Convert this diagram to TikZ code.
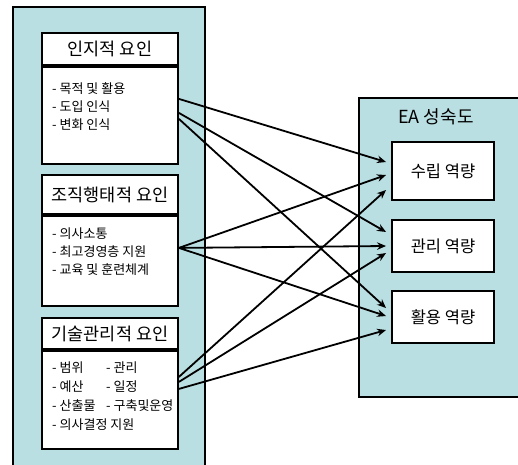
\documentclass[tikz,border=0pt]{standalone}
\usepackage{fontspec}
\setmainfont{Noto Sans CJK KR}
\usetikzlibrary{positioning, calc, arrows.meta}
\definecolor{PanelBlue}{HTML}{BADFE2}
\tikzset{
OuterBox/.style ={draw, fill=PanelBlue, line width=1.9pt, anchor=north west, inner sep=0pt},
TitleBox/.style ={draw, fill=white, line width=1.9pt, anchor=north west, inner sep=0pt,
                  minimum width=136pt, font=\fontsize{17.5}{20}\selectfont},
BodyBox/.style  ={draw, fill=white, line width=1.9pt, inner sep=0pt, minimum width=136pt},
ItemText/.style ={anchor=north west, inner sep=0pt, align=left, font=\fontsize{13}{18}\selectfont},
GoalBox/.style  ={draw, fill=white, line width=1.9pt, inner sep=0pt, minimum width=102pt,
                  font=\fontsize{16.5}{18}\selectfont},
MyArrow/.style  ={line width=1.8pt, -{Stealth[length=9pt, width=7.5pt]}},
}

\begin{document}
\begin{tikzpicture}[x=1pt, y=-1pt]
\useasboundingbox (0,0) rectangle (518,464);
\clip (0,0) rectangle (518,464);

\node[OuterBox, minimum width=192pt, minimum height=470pt] (factors) at (12,6) {};   % 요인
\node[OuterBox, minimum width=170pt, minimum height=299pt] (maturity) at (358,97) {}; % 성숙도
\node[font=\fontsize{18}{20}\selectfont] (mtitle) at (436,117) {EA 성숙도};

\begin{scope}  % 왼쪽 상자
\node[TitleBox, minimum height=32pt] (title1) at (41,32) {인지적 요인};
\node[BodyBox, minimum height=97pt, below=0pt of title1] (body1) {};
\node[ItemText] (list1) at ($(body1.north west)+(11,17)$) {- 목적 및 활용\\- 도입 인식\\- 변화 인식};

\node[TitleBox, minimum height=39pt] (title2) at (41,174) {조직행태적 요인};
\node[BodyBox, minimum height=90pt, below=0pt of title2] (body2) {};
\node[ItemText] (list2) at ($(body2.north west)+(11,13)$) {- 의사소통\\- 최고경영층 지원\\- 교육 및 훈련체계};

\node[TitleBox, minimum height=31pt] (title3) at (41,317) {기술관리적 요인};
\node[BodyBox, minimum height=98pt, below=0pt of title3] (body3) {};
\node[ItemText, font=\fontsize{13}{19}\selectfont] (list3) at ($(body3.north west)+(11,12)$)
  {\makebox[54pt][l]{- 범위}- 관리\\\makebox[54pt][l]{- 예산}- 일정\\
   \makebox[54pt][l]{- 산출물}- 구축및운영\\- 의사결정 지원};
\end{scope}

\begin{scope}  % 오른쪽 상자
\node[GoalBox, minimum height=58pt] (goalA) at (443,171) {수립 역량};
\node[GoalBox, minimum height=52pt] (goalB) at (443,246) {관리 역량};
\node[GoalBox, minimum height=52pt] (goalC) at (443,317) {활용 역량};
\end{scope}

\begin{scope}[MyArrow]  % 화살표
\draw ($(body1.north east)+(0,33)$) -- ($(goalA.west)+(-5,-9)$);
\draw ($(body1.north east)+(0,47)$) -- ($(goalB.west)+(-5,-14)$);
\draw ($(body1.north east)+(0,53)$) -- ($(goalC.west)+(-5,-9)$);
\draw ($(body2.north east)+(0,33)$) -- ($(goalA.west)+(-5,4)$);
\draw ($(body2.north east)+(0,33)$) -- ($(goalB.west)+(-5,0)$);
\draw ($(body2.north east)+(0,33)$) -- ($(goalC.west)+(-5,-1)$);
\draw ($(body3.north east)+(0,27)$) -- ($(goalA.west)+(-5,19)$);
\draw ($(body3.north east)+(0,32)$) -- ($(goalB.west)+(-5,7)$);
\draw ($(body3.north east)+(0,39)$) -- ($(goalC.west)+(-5,13)$);
\end{scope}
\end{tikzpicture}
\end{document}
